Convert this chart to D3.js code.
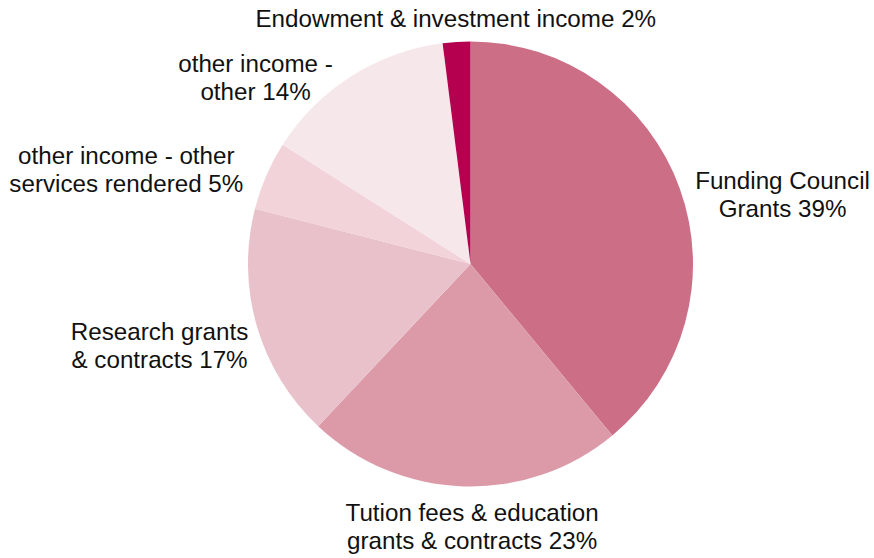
<!DOCTYPE html>
<html>
<head>
<meta charset="utf-8">
<script src="https://cdn.jsdelivr.net/npm/d3@7"></script>
<style>
  html, body { margin: 0; padding: 0; background: #ffffff; }
  svg { display: block; }
  text { font-family: "Liberation Sans", Arial, Helvetica, sans-serif; fill: #111111; }
</style>
</head>
<body>
<svg id="chart" width="874" height="558"></svg>
<script>
// Income sources (share of total, %), clockwise from 12 o'clock
const categories = [
  "Funding Council\nGrants",
  "Tution fees & education\ngrants & contracts",
  "Research grants\n& contracts",
  "other income - other\nservices rendered",
  "other income -\nother",
  "Endowment & investment income"
];
const values = [39, 23, 17, 5, 14, 2];
const colors = ["#cc6f86", "#dc9aa8", "#e9c1ca", "#f2d3d9", "#f6e7ea", "#b4004e"];

// label nudges (px) applied after the angle-based placement
const labelNudge = [[4, 10], [9, 6], [3, 16], [-12, -1], [-12, 11.5], [0, -3]];

const width = 874, height = 558;
const cx = 470.5, cy = 264, radius = 222.5;
const fontSize = 24.2, lineHeight = 28, capHeight = fontSize * 0.7;

const svg = d3.select("#chart");
const g = svg.append("g").attr("transform", `translate(${cx},${cy})`);

const data = categories.map((c, i) => ({ name: c, value: values[i], color: colors[i], i }));

const pie = d3.pie().value(d => d.value).sort(null);
const arc = d3.arc().innerRadius(0).outerRadius(radius);
const arcs = pie(data);

g.selectAll("path.slice")
  .data(arcs)
  .join("path")
  .attr("class", "slice")
  .attr("d", arc)
  .attr("fill", d => d.data.color);

// labels: anchored outside the slice at its mid angle
const gap = 12;
arcs.forEach(a => {
  const mid = (a.startAngle + a.endAngle) / 2;
  const s = Math.sin(mid), c = Math.cos(mid);
  const px = (radius + gap) * s, py = -(radius + gap) * c;
  const lines = (a.data.name + " " + a.data.value + "%").split("\n");

  const t = g.append("text").attr("text-anchor", "middle").style("font-size", fontSize + "px");
  const spans = lines.map((ln, k) => t.append("tspan").attr("x", 0).attr("y", k * lineHeight).text(ln));
  const w = d3.max(spans, sp => sp.node().getComputedTextLength());
  const blockH = capHeight + (lines.length - 1) * lineHeight;

  let bx;
  if (s > 0.25) bx = px + w / 2;
  else if (s < -0.25) bx = px - w / 2;
  else bx = px;

  let topY;
  if (c > 0.9) topY = py - blockH;
  else if (c < -0.9) topY = py;
  else topY = py - blockH / 2;

  const [dx, dy] = labelNudge[a.data.i];
  const x0 = bx + dx, y0 = topY + capHeight + dy;
  spans.forEach((sp, k) => sp.attr("x", x0).attr("y", y0 + k * lineHeight));
});
</script>
</body>
</html>
